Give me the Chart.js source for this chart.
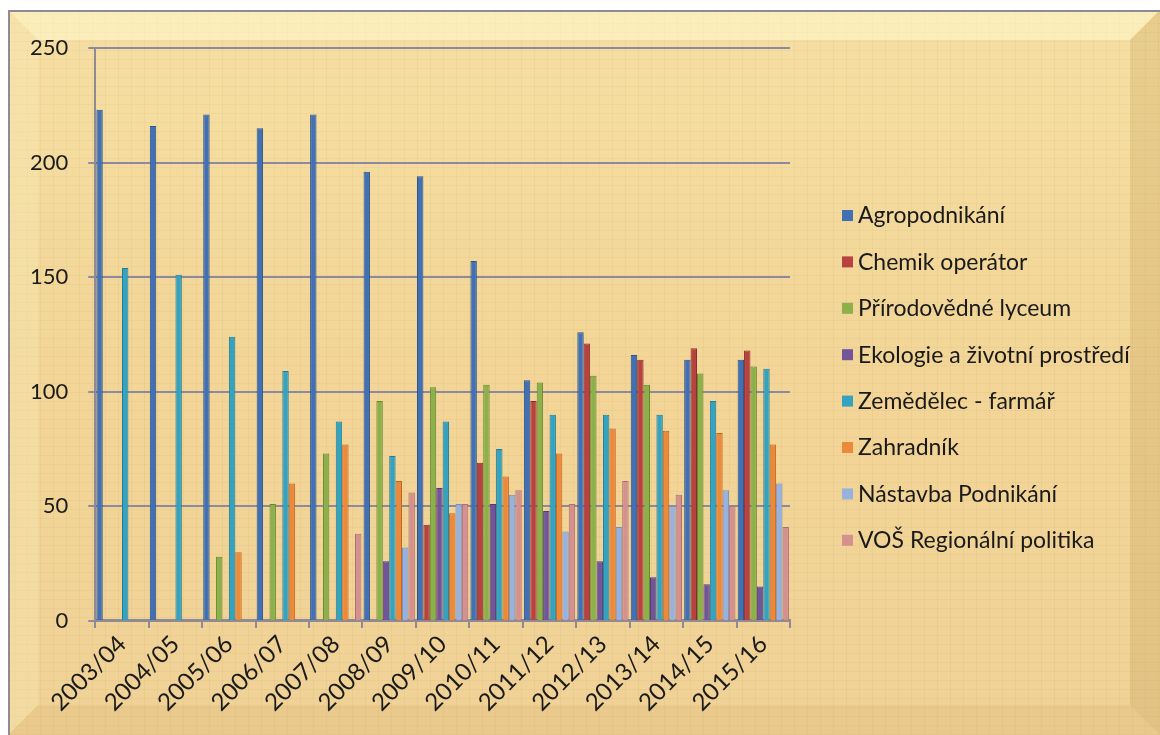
<!DOCTYPE html>
<html>
<head>
<meta charset="utf-8">
<script src="https://cdn.jsdelivr.net/npm/chart.js@4"></script>
<style>
    html, body { margin: 0; padding: 0; background: #ffffff; }
    #wrap { width: 1160px; height: 735px; position: relative; }
</style>
</head>
<body>
<div id="wrap"><canvas id="skolaChart" width="1160" height="735"></canvas></div>
<script>
// roky a počty žáků podle oborů
const roky = ['2003/04', '2004/05', '2005/06', '2006/07', '2007/08', '2008/09', '2009/10',
    '2010/11', '2011/12', '2012/13', '2013/14', '2014/15', '2015/16'];

const agropodnikani = [223, 216, 221, 215, 221, 196, 194, 157, 105, 126, 116, 114, 114];
const chemik = [0, 0, 0, 0, 0, 0, 42, 69, 96, 121, 114, 119, 118];
const prirodovedne = [0, 0, 28, 51, 73, 96, 102, 103, 104, 107, 103, 108, 111];
const ekologie = [0, 0, 0, 0, 0, 26, 58, 51, 48, 26, 19, 16, 15];
const zemedelec = [154, 151, 124, 109, 87, 72, 87, 75, 90, 90, 90, 96, 110];
const zahradnik = [0, 0, 30, 60, 77, 61, 47, 63, 73, 84, 83, 82, 77];
const nastavba = [0, 0, 0, 0, 0, 32, 51, 55, 39, 41, 50, 57, 60];
const vos = [0, 0, 0, 0, 38, 56, 51, 57, 51, 61, 55, 50, 41];

const yTicks = [0, 50, 100, 150, 200, 250];

const serie = [
    { label: 'Agropodnikání', data: agropodnikani, fill: '#4170b4', line: '#2d5389' },
    { label: 'Chemik operátor', data: chemik, fill: '#b8423f', line: '#8a2e2b' },
    { label: 'Přírodovědné lyceum', data: prirodovedne, fill: '#8cb04a', line: '#66862f' },
    { label: 'Ekologie a životní prostředí', data: ekologie, fill: '#71549a', line: '#533b75' },
    { label: 'Zemědělec - farmář', data: zemedelec, fill: '#35a2bf', line: '#237f99' },
    { label: 'Zahradník', data: zahradnik, fill: '#ec8a3c', line: '#c06522' },
    { label: 'Nástavba Podnikání', data: nastavba, fill: '#98b2e0', line: '#7a90bb' },
    { label: 'VOŠ Regionální politika', data: vos, fill: '#d4918f', line: '#ad706e' }
];

const font = "Lato, 'Open Sans', sans-serif";

// pozadí s rámem (papyrus)
const pozadi = {
    id: 'pozadi',
    beforeDraw(chart) {
        const ctx = chart.ctx;
        const W = chart.width, H = chart.height;
        const x0 = 8, y0 = 10, b = 30;
        ctx.save();
        ctx.fillStyle = '#ffffff';
        ctx.fillRect(0, 0, W, H);
        const g = ctx.createLinearGradient(0, y0, 0, H);
        g.addColorStop(0, '#f6dfa3');
        g.addColorStop(0.5, '#f2d597');
        g.addColorStop(1, '#f0d296');
        ctx.fillStyle = g;
        ctx.fillRect(x0, y0, W - x0, H - y0);

        // jemná textura
        ctx.globalAlpha = 0.06;
        ctx.strokeStyle = '#9a7a3a';
        ctx.lineWidth = 1;
        for (let x = x0 + 6; x < W; x += 13) {
            ctx.beginPath(); ctx.moveTo(x + 0.5, y0); ctx.lineTo(x + 0.5, H); ctx.stroke();
        }
        for (let y = y0 + 4; y < H; y += 9) {
            ctx.beginPath(); ctx.moveTo(x0, y + 0.5); ctx.lineTo(W, y + 0.5); ctx.stroke();
        }
        ctx.globalAlpha = 1;

        // zkosené okraje
        const poly = (pts, color) => {
            ctx.beginPath();
            ctx.moveTo(pts[0][0], pts[0][1]);
            pts.slice(1).forEach(p => ctx.lineTo(p[0], p[1]));
            ctx.closePath();
            ctx.fillStyle = color;
            ctx.fill();
        };
        poly([[x0, y0], [W, y0], [W - b, y0 + b], [x0 + b, y0 + b]], 'rgba(255, 250, 205, 0.55)');
        poly([[x0, y0], [x0 + b, y0 + b], [x0 + b, H - b], [x0, H]], 'rgba(250, 238, 190, 0.30)');
        poly([[W, y0], [W, H], [W - b, H - b], [W - b, y0 + b]], 'rgba(190, 150, 80, 0.24)');
        poly([[x0, H], [x0 + b, H - b], [W - b, H - b], [W, H]], 'rgba(200, 160, 90, 0.15)');

        ctx.strokeStyle = '#8f8a94';
        ctx.lineWidth = 2;
        ctx.beginPath();
        ctx.moveTo(x0 + 1, H);
        ctx.lineTo(x0 + 1, y0 + 1);
        ctx.lineTo(W, y0 + 1);
        ctx.stroke();
        ctx.restore();
    }
};

// legenda vpravo
const legenda = {
    id: 'legenda',
    afterDraw(chart) {
        const ctx = chart.ctx;
        ctx.save();
        ctx.font = '23px ' + font;
        ctx.textBaseline = 'middle';
        chart.data.datasets.forEach((ds, i) => {
            const y = 215 + i * 46.4;
            ctx.fillStyle = ds.backgroundColor;
            ctx.fillRect(842, y - 5, 11, 11);
            ctx.fillStyle = '#1a1a1a';
            ctx.fillText(ds.label, 858, y + 1);
        });
        ctx.restore();
    }
};

const data = {
    labels: roky,
    datasets: serie.map(s => ({
        label: s.label,
        data: s.data,
        backgroundColor: s.fill,
        borderColor: s.line,
        borderWidth: 1,
        categoryPercentage: 0.96,
        barPercentage: 1
    }))
};

const config = {
    type: 'bar',
    data,
    options: {
        responsive: false,
        animation: false,
        layout: {
            padding: { left: 10, right: 370, top: 48, bottom: 16 }
        },
        plugins: {
            legend: { display: false },
            tooltip: { enabled: false }
        },
        scales: {
            x: {
                grid: {
                    offset: true,
                    drawOnChartArea: false,
                    drawTicks: true,
                    tickLength: 7,
                    color: '#8f8a94',
                    lineWidth: 2
                },
                border: { color: '#8f8a94', width: 3 },
                ticks: {
                    color: '#1a1a1a',
                    font: { family: font, size: 24 },
                    minRotation: 45,
                    maxRotation: 45,
                    padding: 2
                }
            },
            y: {
                min: 0,
                max: 250,
                afterBuildTicks(axis) {
                    axis.ticks = yTicks.map(v => ({ value: v }));
                },
                grid: {
                    color: '#8c8a9e',
                    lineWidth: 2,
                    tickLength: 7
                },
                border: { color: '#8f8a94', width: 2 },
                ticks: {
                    color: '#1a1a1a',
                    font: { family: font, size: 22 },
                    padding: 20
                }
            }
        }
    },
    plugins: [pozadi, legenda]
};

const skolaChart = new Chart(
    document.getElementById('skolaChart'),
    config
);
</script>
</body>
</html>
